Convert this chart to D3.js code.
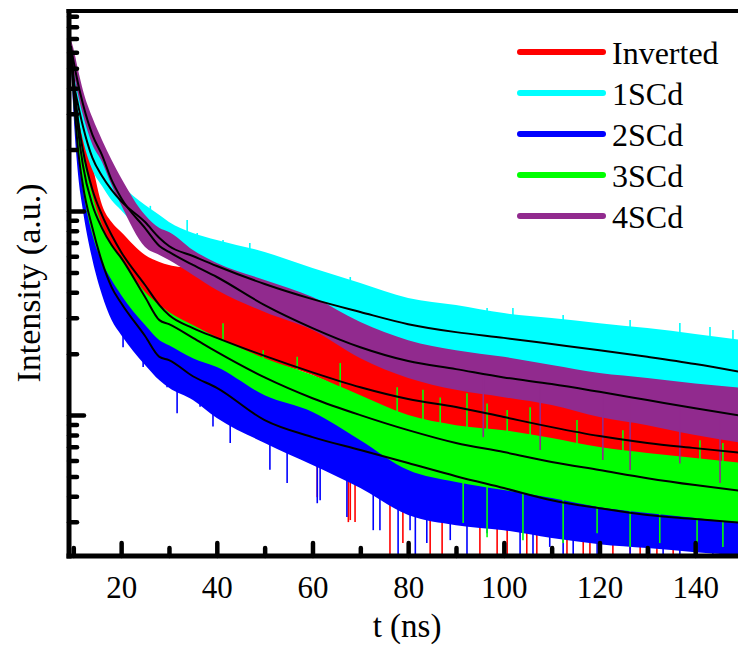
<!DOCTYPE html>
<html>
<head>
<meta charset="utf-8">
<script src="https://cdn.jsdelivr.net/npm/d3@7"></script>
<style>
    body { margin: 0; background: #fff; }
    svg { display: block; }
</style>
</head>
<body>
<div id="chart"></div>
<script>
// time axis (ns) where the curves were read
const times = [9.5, 10, 11, 12, 14, 16, 18, 20, 25, 28, 30, 35, 40, 50, 60, 70, 80, 90, 100, 110, 120, 130, 140, 150];

const seriesNames = ['Inverted', '1SCd', '2SCd', '3SCd', '4SCd'];

// counts: fitted decay, top and bottom of the visible noisy trace
const invertedFit   = [6290, 4640, 2790, 1990, 1270, 955, 763, 630, 434, 346, 309, 267, 239, 195, 162, 137, 120, 109.6, 97.8, 87.3, 78.9, 73, 68.9, 65.2];
const invertedUpper = [6740, 5380, 3700, 2790, 1680, 1070, 883, 789, 609, 563, 544, 514, 434, 366, 292, 233, 186, 157, 140, 125, 112, 103.6, 94.5, 89.3];
const invertedLower = [5750, 3920, 2360, 1680, 903, 459, 410, 375, 346, 320, 299, 261, 233, 186, 157, 121, 97.8, 86.4, 81.6, 75.4, 67.4, 63.7, 58.9, 55];

const sc1Fit   = [6150, 4490, 3310, 2610, 1820, 1485, 1270, 1118, 883, 738, 674, 602, 538, 439, 370, 320, 279, 255, 239, 223, 208, 193, 178, 162];
const sc1Upper = [6590, 5380, 3830, 3060, 2230, 1820, 1500, 1340, 1070, 955, 883, 781, 721, 630, 526, 444, 375, 346, 316, 299, 282, 267, 250, 233];
const sc1Lower = [5630, 3920, 2860, 2230, 1590, 1326, 1130, 1010, 763, 681, 644, 575, 526, 410, 327, 276, 220, 197, 182, 166, 152, 140, 133, 125];

const sc2Fit   = [6020, 3920, 1990, 1340, 825, 563, 424, 354, 244, 193, 186, 155, 136, 94.5, 78, 67.4, 58.2, 50.2, 43.9, 38.3, 35, 32.4, 31, 29.6];
const sc2Upper = [6290, 4390, 2360, 1590, 955, 644, 514, 444, 292, 247, 233, 197, 176, 133, 112, 94.5, 75.4, 63.7, 53.8, 48, 42.9, 38.3, 36.2, 34.2];
const sc2Lower = [5500, 3130, 1500, 1010, 575, 388, 292, 247, 176, 148, 136, 118.5, 96.7, 73, 56.9, 43.9, 32.4, 28.9, 27.3, 25, 23.3, 22.3, 21.3, 20.6];

const sc3Fit   = [6150, 4290, 2500, 1680, 1070, 825, 681, 589, 379, 292, 279, 239, 204, 153, 121, 100, 84.4, 73, 65.9, 58.9, 53.8, 49.1, 45.4, 42.4];
const sc3Upper = [6440, 4800, 2960, 1990, 1200, 853, 681, 589, 401, 346, 320, 276, 241, 190, 157, 125, 100, 89.3, 84.4, 77.2, 69.7, 65.2, 61.6, 58.2];
const sc3Lower = [5630, 3500, 1880, 1270, 763, 563, 459, 388, 276, 233, 220, 190, 172, 125, 103.6, 75.4, 53.8, 47, 42.9, 39.2, 35.4, 33.1, 31.3, 29.6];

const sc4Fit   = [6440, 5500, 4200, 3350, 2360, 1880, 1420, 1158, 825, 674, 630, 544, 475, 346, 267, 215, 184, 168, 153, 142, 130, 118.5, 108, 99];
const sc4Upper = [6890, 6290, 4910, 3920, 2860, 2230, 1780, 1452, 955, 825, 789, 644, 557, 459, 379, 286, 233, 208, 193, 176, 160.6, 152, 143, 136];
const sc4Lower = [6020, 4910, 3700, 2960, 2110, 1740, 1340, 1070, 666, 609, 575, 486, 410, 320, 261, 190, 152, 133, 122.4, 112, 97.8, 89.3, 79.8, 73];

// single large noise excursions (time, counts)
const invertedSpikeTimes  = [61, 67.5, 67.9, 68.9, 76.2, 78.9, 84.6, 87.1, 92.9, 95, 98.6, 100.7, 104.8, 106.9, 113.2, 116.6, 118, 122.8, 126.4, 128.5, 132, 135.4, 140.4, 145.2];
const invertedSpikeValues = [39.6, 29.9, 30.6, 29.9, 20, 23.6, 20, 20, 29.6, 20, 20, 20, 20, 20, 20, 20, 20, 20, 20, 20, 20, 20, 20, 20];
const sc1SpikeTimes  = [26.1, 33.8, 35.9, 41.3, 46.9, 51.8, 58, 67.9, 72, 77.7, 80.4, 85.2, 92.3, 96.5, 101.9, 112.4, 126.4, 136.8, 143.1, 147.9];
const sc1SpikeValues = [1060, 903, 781, 721, 697, 532, 514, 475, 410, 379, 366, 354, 338, 335, 335, 309, 292, 283, 270, 261];
const sc2SpikeTimes  = [20.4, 24.6, 29.6, 31.7, 36.5, 39.2, 42.8, 51.1, 54.7, 61, 61.6, 67.2, 72.7, 74.1, 77.9, 80.4, 81.5, 83.9, 88.8, 92.3, 96.5, 98.6,
    103.4, 106.1, 109.6, 112.4, 114.5, 116.6, 119.5, 122.8, 126.4, 130.5, 133.3, 136.8, 140.4, 143.7, 147.3];
const sc2SpikeValues = [215, 172, 137, 102, 110, 88, 73, 54, 46.5, 37, 38.3, 31.7, 27.3, 27.3, 20, 27.3, 20, 23.6, 24.4, 20, 26.4, 30.6,
    20, 20, 22.6, 20, 20, 24.4, 20, 23.6, 20, 20, 20, 20, 20, 20, 20];
const sc3SpikeTimes  = [41.3, 49.7, 56.8, 65.8, 77.7, 83.1, 86.7, 92.3, 96.5, 100.7, 105.5, 115.3, 124.9, 141, 145.8,
    91.5, 96.5, 104, 112.4, 119.5, 126.4, 132.6, 140.4, 145.8];
const sc3SpikeValues = [282, 208, 193, 180, 137, 133, 122, 128, 114, 106, 109.4, 94.5, 84.4, 75.4, 73,
    29.6, 25.2, 24.4, 23.6, 26.4, 22.6, 23.6, 21.8, 22.6];
const sc4SpikeTimes  = [95.7, 107.6, 120.7, 126.4, 136.8, 145.2];
const sc4SpikeValues = [78, 67.4, 60.2, 53.8, 58, 46.5];

const xMajorTicks = [20, 40, 60, 80, 100, 120, 140];
const xMinorTicks = [10, 30, 50, 70, 90, 110, 130];
const yMajorTicks = [100, 1000];
const yMinorTicks = [30, 40, 50, 60, 70, 80, 90, 200, 300, 400, 500, 600, 700, 800, 900,
    2000, 3000, 4000, 5000, 6000, 7000, 8000, 9000];

const seriesColors = ['#ff0000', '#00ffff', '#0000ff', '#00ff00', '#912a8e'];
const serifFont = 'Liberation Serif';

class DecayPlot {

    constructor(_config, _series) {
        this.config = {
            parentElement: _config.parentElement,
            containerWidth: _config.width,
            containerHeight: _config.height,
        }
        this.series = _series;
        this.initVis();
    }

    initVis() {
        let vis = this;
        vis.left = 69;
        vis.right = 743;
        vis.top = 11;
        vis.bottom = 556;

        vis.xScale = d3.scaleLinear()
            .domain([9.1, 150])
            .range([vis.left, vis.right]);
        vis.yScale = d3.scaleLog()
            .domain([20.4, 9550])
            .range([vis.bottom, vis.top]);

        vis.svg = d3.select(vis.config.parentElement)
            .append('svg')
            .attr('width', vis.config.containerWidth)
            .attr('height', vis.config.containerHeight)
            .attr('font-family', serifFont);

        vis.svg.append('rect')
            .attr('width', vis.config.containerWidth)
            .attr('height', vis.config.containerHeight)
            .attr('fill', '#fff');

        vis.svg.append('clipPath')
            .attr('id', 'plot-clip')
            .append('rect')
            .attr('x', vis.left)
            .attr('y', vis.top)
            .attr('width', vis.right - vis.left)
            .attr('height', vis.bottom - vis.top);

        vis.plot = vis.svg.append('g')
            .attr('clip-path', 'url(#plot-clip)');
        vis.axes = vis.svg.append('g');
        vis.legend = vis.svg.append('g');
    }

    renderVis() {
        let vis = this;

        let band = d3.area()
            .x((d) => vis.xScale(d.t))
            .y0((d) => vis.yScale(d.lo))
            .y1((d) => vis.yScale(d.hi))
            .curve(d3.curveMonotoneX);
        let fitLine = d3.line()
            .x((d) => vis.xScale(d.t))
            .y((d) => vis.yScale(d.v))
            .curve(d3.curveMonotoneX);

        // one group per trace, in legend order, so later traces sit on top
        let groups = vis.plot.selectAll('.trace')
            .data(vis.series)
            .join('g')
            .attr('class', 'trace');

        groups.append('path')
            .attr('d', (s) => band(times.map((t, i) => ({t: t, lo: s.lower[i], hi: s.upper[i]}))))
            .attr('fill', (s, i) => seriesColors[i]);

        groups.each(function(s, si) {
            // spike starts on the fitted curve
            let base = d3.scaleLinear().domain(times).range(s.fit);
            d3.select(this).selectAll('.spike')
                .data(s.spikeTimes.map((t, i) => ({t: t, v: s.spikeValues[i]})))
                .join('line')
                .attr('class', 'spike')
                .attr('x1', (d) => vis.xScale(d.t))
                .attr('x2', (d) => vis.xScale(d.t))
                .attr('y1', (d) => vis.yScale(base(d.t)))
                .attr('y2', (d) => vis.yScale(d.v))
                .attr('stroke', seriesColors[si])
                .attr('stroke-width', 1.6);
        });

        vis.plot.selectAll('.fit')
            .data(vis.series)
            .join('path')
            .attr('class', 'fit')
            .attr('d', (s) => fitLine(times.map((t, i) => ({t: t, v: s.fit[i]}))))
            .attr('fill', 'none')
            .attr('stroke', '#000')
            .attr('stroke-width', 2);

        vis.renderAxes();
        vis.renderLegend();
    }

    renderAxes() {
        let vis = this;

        let xMajor = vis.axes.append('g')
            .attr('transform', `translate(0,${vis.bottom})`)
            .call(d3.axisBottom(vis.xScale).tickValues(xMajorTicks).tickSize(-13).tickPadding(20).tickFormat(d3.format('d')));
        let xMinor = vis.axes.append('g')
            .attr('transform', `translate(0,${vis.bottom})`)
            .call(d3.axisBottom(vis.xScale).tickValues(xMinorTicks).tickSize(-8).tickFormat(''));
        let yMajor = vis.axes.append('g')
            .attr('transform', `translate(${vis.left},0)`)
            .call(d3.axisLeft(vis.yScale).tickValues(yMajorTicks).tickSize(-15).tickFormat(''));
        let yMinor = vis.axes.append('g')
            .attr('transform', `translate(${vis.left},0)`)
            .call(d3.axisLeft(vis.yScale).tickValues(yMinorTicks).tickSize(-8).tickFormat(''));

        [xMajor, xMinor, yMajor, yMinor].forEach((g) => {
            g.attr('font-family', serifFont);
            g.select('.domain').remove();
            g.selectAll('.tick line')
                .attr('stroke', '#000')
                .attr('stroke-width', 4.5)
                .attr('stroke-linecap', 'round');
        });
        xMajor.attr('font-size', 31);
        xMajor.selectAll('.tick text')
            .attr('fill', '#000')
            .attr('font-family', serifFont)
            .attr('font-size', 31);

        // frame: left, bottom and the top rule
        vis.axes.append('line')
            .attr('x1', vis.left).attr('x2', vis.left)
            .attr('y1', vis.top - 2).attr('y2', vis.bottom + 2.5)
            .attr('stroke', '#000').attr('stroke-width', 5);
        vis.axes.append('line')
            .attr('x1', vis.left - 2.5).attr('x2', vis.config.containerWidth)
            .attr('y1', vis.bottom).attr('y2', vis.bottom)
            .attr('stroke', '#000').attr('stroke-width', 5);
        vis.axes.append('line')
            .attr('x1', vis.left - 2.5).attr('x2', vis.config.containerWidth)
            .attr('y1', vis.top).attr('y2', vis.top)
            .attr('stroke', '#000').attr('stroke-width', 4);

        vis.axes.append('text')
            .attr('x', 407)
            .attr('y', 637)
            .attr('font-family', serifFont)
            .attr('font-size', 33)
            .attr('text-anchor', 'middle')
            .text('t (ns)');
        vis.axes.append('text')
            .attr('transform', 'translate(40,283) rotate(-90)')
            .attr('font-family', serifFont)
            .attr('font-size', 34)
            .attr('text-anchor', 'middle')
            .text('Intensity (a.u.)');
    }

    renderLegend() {
        let vis = this;
        let rows = vis.legend.selectAll('.legend-row')
            .data(seriesNames)
            .join('g')
            .attr('class', 'legend-row')
            .attr('transform', (d, i) => `translate(0,${52 + i * 41})`);
        rows.append('line')
            .attr('x1', 520)
            .attr('x2', 603)
            .attr('y1', 0)
            .attr('y2', 0)
            .attr('stroke', (d, i) => seriesColors[i])
            .attr('stroke-width', 6)
            .attr('stroke-linecap', 'round');
        rows.append('text')
            .attr('x', 612)
            .attr('y', 12)
            .attr('font-family', serifFont)
            .attr('font-size', 32)
            .text((d) => d);
    }
}

let chart = new DecayPlot({parentElement: '#chart', width: 738, height: 647}, [
    {name: 'Inverted', fit: invertedFit, upper: invertedUpper, lower: invertedLower, spikeTimes: invertedSpikeTimes, spikeValues: invertedSpikeValues},
    {name: '1SCd', fit: sc1Fit, upper: sc1Upper, lower: sc1Lower, spikeTimes: sc1SpikeTimes, spikeValues: sc1SpikeValues},
    {name: '2SCd', fit: sc2Fit, upper: sc2Upper, lower: sc2Lower, spikeTimes: sc2SpikeTimes, spikeValues: sc2SpikeValues},
    {name: '3SCd', fit: sc3Fit, upper: sc3Upper, lower: sc3Lower, spikeTimes: sc3SpikeTimes, spikeValues: sc3SpikeValues},
    {name: '4SCd', fit: sc4Fit, upper: sc4Upper, lower: sc4Lower, spikeTimes: sc4SpikeTimes, spikeValues: sc4SpikeValues},
]);
chart.renderVis();
</script>
</body>
</html>
